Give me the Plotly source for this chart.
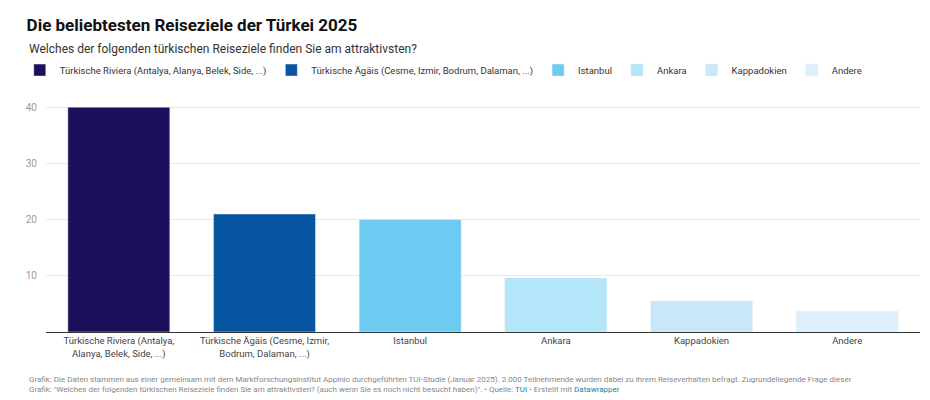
import plotly.graph_objects as go

categories = ['Türkische Riviera (Antalya,<br>Alanya, Belek, Side, ...)',
              'Türkische Ägäis (Cesme, Izmir,<br>Bodrum, Dalaman, ...)',
              'Istanbul', 'Ankara', 'Kappadokien', 'Andere']
legend_names = ['Türkische Riviera (Antalya, Alanya, Belek, Side, ...)',
                'Türkische Ägäis (Cesme, Izmir, Bodrum, Dalaman, ...)',
                'Istanbul', 'Ankara', 'Kappadokien', 'Andere']
values = [40, 21, 20, 9.6, 5.5, 3.7]
colors = ['#1c0f5b', '#0755a0', '#6dcbf2', '#b2e6f8', '#c8e8fa', '#ddf1fc']

fig = go.Figure()
for cat, name, val, col in zip(categories, legend_names, values, colors):
    fig.add_trace(go.Bar(x=[cat], y=[val], name=name, marker_color=col,
                         hoverinfo='y'))

fig.update_layout(
    width=930, height=400,
    font=dict(family='Roboto', size=9.5, color='#333'),
    paper_bgcolor='white', plot_bgcolor='white',
    margin=dict(l=36, r=18, t=97, b=76),
    bargap=0.3,
    barmode='overlay',
    title=dict(text='<b>Die beliebtesten Reiseziele der Türkei 2025</b>',
               x=0.02, xanchor='left', y=0.957, yanchor='middle',
               font=dict(size=17, color='#111')),
    legend=dict(orientation='h', x=-0.03, y=1.154, xanchor='left',
                yanchor='middle', font=dict(size=9.5, color='#333'),
                itemclick=False, itemwidth=30, traceorder='normal',
                tracegroupgap=0),
    xaxis=dict(showline=True, linecolor='#333', linewidth=1,
               tickfont=dict(size=9.5, color='#444'), ticks=''),
    yaxis=dict(range=[0, 40.4], tickvals=[10, 20, 30, 40],
               gridcolor='#e8e8e8', zeroline=False,
               tickfont=dict(size=10, color='#999'),
               ticklabelstandoff=8),
)

fig.add_annotation(text='Welches der folgenden türkischen Reiseziele finden Sie am attraktivsten?',
                   xref='paper', yref='paper', x=-0.022, y=1.247, xanchor='left',
                   yanchor='middle', showarrow=False, font=dict(size=12, color='#333'))
fig.add_annotation(
    text=('Grafik: Die Daten stammen aus einer gemeinsam mit dem Marktforschungsinstitut Appinio '
          'durchgeführten TUI-Studie (Januar 2025). 2.000 Teilnehmende wurden dabei zu ihrem '
          'Reiseverhalten befragt. Zugrundeliegende Frage dieser<br>Grafik: "Welches der folgenden '
          'türkischen Reiseziele finden Sie am attraktivsten? (auch wenn Sie es noch nicht besucht '
          'haben)". • Quelle: <span style="color:#1d81a2">TUI</span> • Erstellt mit '
          '<span style="color:#1d81a2">Datawrapper</span>'),
    xref='paper', yref='paper', x=-0.022, y=-0.18, xanchor='left', yanchor='top',
    align='left', showarrow=False, font=dict(size=8, color='#888'))

fig.write_html('out.html')
